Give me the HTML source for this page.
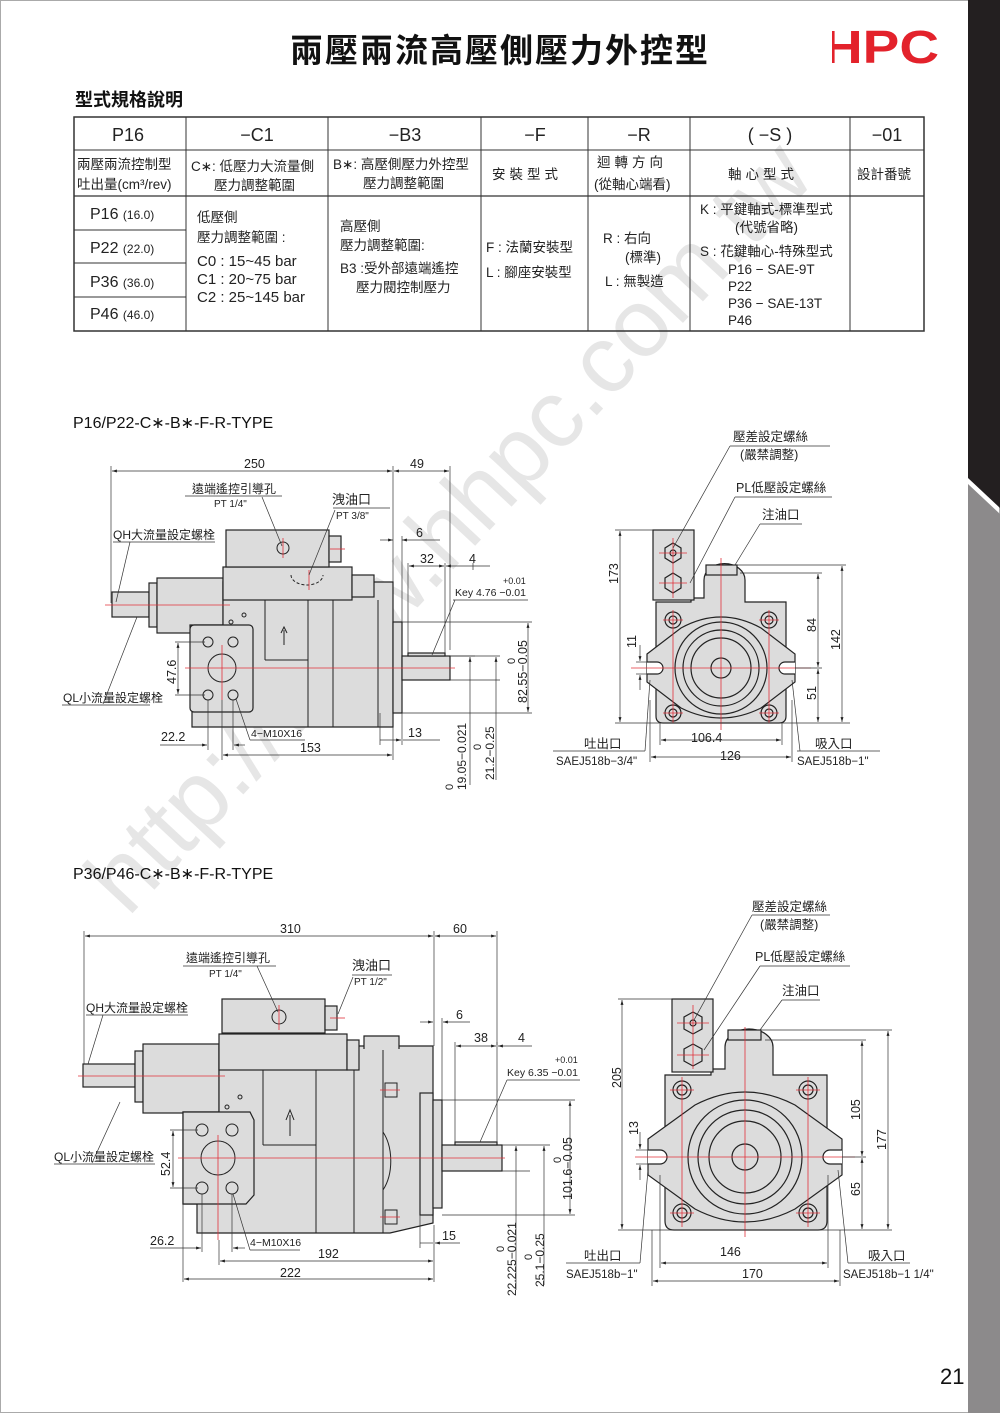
<!DOCTYPE html>
<html><head><meta charset="utf-8">
<style>
html,body{margin:0;padding:0;background:#fff;}
body{width:1000px;height:1413px;overflow:hidden;position:relative;font-family:"Liberation Sans","Noto Sans CJK TC",sans-serif;}
svg{position:absolute;left:0;top:0;}
</style></head><body>
<svg width="1000" height="1413" viewBox="0 0 1000 1413" xmlns="http://www.w3.org/2000/svg" font-family="Liberation Sans, Noto Sans CJK TC, sans-serif">
<defs>
<marker id="a" viewBox="0 0 10 10" refX="10" refY="5" markerWidth="7" markerHeight="7" orient="auto-start-reverse"><path d="M0,2 L10,5 L0,8 Z" fill="#222"/></marker>
</defs>
<rect x="0.5" y="0.5" width="999" height="1412" fill="#fff" stroke="#aaa"/>
<!-- right strip -->
<polygon points="968,0 1000,0 1000,508 968,478" fill="#231f20"/>
<polygon points="968,484 1000,514 1000,1413 968,1413" fill="#8c8a8b"/>
<!-- watermark -->
<text x="0" y="0" transform="translate(128,918) rotate(-47)" font-size="96" fill="#e6e6e6" textLength="1010" lengthAdjust="spacingAndGlyphs">http://www.hhpc.com.tw</text>

<!-- title -->
<text x="500" y="62" text-anchor="middle" font-size="33" font-weight="bold" fill="#111" letter-spacing="2">兩壓兩流高壓側壓力外控型</text>
<text x="823" y="63" font-size="46" font-weight="bold" fill="#e3222b" textLength="116" lengthAdjust="spacingAndGlyphs">HPC</text>
<rect x="826" y="29" width="6" height="34" fill="#fff"/>
<text x="75" y="106" font-size="18" font-weight="bold" fill="#111">型式規格說明</text>

<!-- table -->
<g stroke="#333" fill="none">
<rect x="74" y="117" width="850" height="214" stroke-width="1.5"/>
<line x1="74" y1="150" x2="924" y2="150"/>
<line x1="74" y1="196" x2="924" y2="196" stroke-width="1.2"/>
<line x1="74" y1="230" x2="186" y2="230"/>
<line x1="74" y1="263" x2="186" y2="263"/>
<line x1="74" y1="297" x2="186" y2="297"/>
<line x1="186" y1="117" x2="186" y2="331"/>
<line x1="328" y1="117" x2="328" y2="331"/>
<line x1="481" y1="117" x2="481" y2="331"/>
<line x1="588" y1="117" x2="588" y2="331"/>
<line x1="690" y1="117" x2="690" y2="331"/>
<line x1="850" y1="117" x2="850" y2="331"/>
</g>
<g font-size="18" fill="#222" text-anchor="middle">
<text x="128" y="141">P16</text><text x="257" y="141">−C1</text><text x="405" y="141">−B3</text>
<text x="535" y="141">−F</text><text x="639" y="141">−R</text><text x="770" y="141">( −S )</text><text x="887" y="141">−01</text>
</g>
<g font-size="13.5" fill="#222">
<text x="77" y="169">兩壓兩流控制型</text><text x="77" y="189">吐出量(cm³/rev)</text>
<text x="191" y="171">C∗: 低壓力大流量側</text><text x="214" y="190">壓力調整範圍</text>
<text x="333" y="169">B∗: 高壓側壓力外控型</text><text x="363" y="188">壓力調整範圍</text>
<text x="492" y="179" letter-spacing="4">安裝型式</text>
<text x="597" y="167" letter-spacing="4">迴轉方向</text><text x="594" y="189">(從軸心端看)</text>
<text x="728" y="179" letter-spacing="4">軸心型式</text>
<text x="857" y="179">設計番號</text>
</g>
<g fill="#222">
<text x="90" y="219" font-size="16">P16 <tspan font-size="12">(16.0)</tspan></text>
<text x="90" y="253" font-size="16">P22 <tspan font-size="12">(22.0)</tspan></text>
<text x="90" y="287" font-size="16">P36 <tspan font-size="12">(36.0)</tspan></text>
<text x="90" y="319" font-size="16">P46 <tspan font-size="12">(46.0)</tspan></text>
</g>
<g font-size="13.5" fill="#222">
<text x="197" y="222">低壓側</text><text x="197" y="242">壓力調整範圍 :</text>
<text x="197" y="266" font-size="15">C0 : 15~45   bar</text>
<text x="197" y="284" font-size="15">C1 : 20~75   bar</text>
<text x="197" y="302" font-size="15">C2 : 25~145  bar</text>
<text x="340" y="231">高壓側</text><text x="340" y="250">壓力調整範圍:</text>
<text x="340" y="273">B3 :受外部遠端遙控</text><text x="356" y="292">壓力閥控制壓力</text>
<text x="486" y="252">F :  法蘭安裝型</text><text x="486" y="277">L :  腳座安裝型</text>
<text x="603" y="243">R : 右向</text><text x="625" y="262">(標準)</text><text x="605" y="286">L : 無製造</text>
<text x="700" y="214">K : 平鍵軸式-標準型式</text><text x="735" y="232">(代號省略)</text>
<text x="700" y="256">S : 花鍵軸心-特殊型式</text>
<text x="728" y="274">P16  − SAE-9T</text><text x="728" y="291">P22</text>
<text x="728" y="308">P36  − SAE-13T</text><text x="728" y="325">P46</text>
</g>

<!-- ============ DRAWING 1 SIDE VIEW ============ -->
<text x="73" y="428" font-size="16" fill="#111">P16/P22-C∗-B∗-F-R-TYPE</text>
<g fill="#dcdcdc" stroke="#222" stroke-width="1.2">
<rect x="112" y="592" width="37" height="25"/>
<rect x="149" y="583" width="8" height="44"/>
<rect x="157" y="578" width="66" height="55"/>
<path d="M223,582 L393,582 L393,727 L192,727 L192,712 L190,625 L223,625 Z"/>
<rect x="190" y="625" width="63" height="87" rx="4"/>
<rect x="223" y="567" width="129" height="33"/>
<rect x="226" y="530" width="103" height="37"/>
<rect x="329" y="536" width="12" height="26"/>
<rect x="352" y="575" width="22" height="22"/>
<rect x="393" y="622" width="9" height="91"/>
<rect x="402" y="656" width="48" height="24"/>
<rect x="408" y="653" width="37" height="3"/>
</g>
<g stroke="#222" stroke-width="1" fill="none">
<line x1="308" y1="600" x2="308" y2="727"/><line x1="333" y1="600" x2="333" y2="727"/><line x1="378" y1="600" x2="378" y2="727"/>
<line x1="265" y1="600" x2="265" y2="660"/><line x1="265" y1="660" x2="308" y2="660"/>
<path d="M291,575 A16,10 0 0 0 323,575" stroke-dasharray="3,2"/>
<circle cx="222" cy="668" r="14"/>
<circle cx="208" cy="642" r="5"/><circle cx="233" cy="642" r="5"/><circle cx="208" cy="695" r="5"/><circle cx="233" cy="695" r="5"/>
<circle cx="283" cy="548" r="6"/>
<path d="M284,645 V630 M281,633 L284,627 L287,633"/>
<circle cx="231" cy="622" r="2"/><circle cx="244" cy="615" r="2"/>
</g>
<g stroke="#e0303a" stroke-width="0.8">
<line x1="105" y1="605" x2="230" y2="605"/><line x1="185" y1="668" x2="455" y2="668"/>
<line x1="222" y1="645" x2="222" y2="700"/><line x1="283" y1="538" x2="283" y2="558"/>
<line x1="309" y1="570" x2="309" y2="590"/><line x1="330" y1="549" x2="345" y2="549"/>
</g>
<!-- dims drawing 1 -->
<g stroke="#333" stroke-width="0.7" fill="none">
<line x1="111" y1="466" x2="111" y2="603"/><line x1="393" y1="466" x2="393" y2="582"/><line x1="450" y1="466" x2="450" y2="650"/>
<line x1="112" y1="471" x2="392" y2="471" marker-start="url(#a)" marker-end="url(#a)"/>
<line x1="394" y1="471" x2="449" y2="471" marker-start="url(#a)" marker-end="url(#a)"/>
<line x1="402" y1="536" x2="402" y2="622"/>
<line x1="380" y1="540" x2="393" y2="540" marker-end="url(#a)"/><line x1="402" y1="540" x2="440" y2="540" marker-start="url(#a)"/>
<line x1="408" y1="563" x2="408" y2="653"/><line x1="445" y1="563" x2="445" y2="653"/><line x1="473" y1="563" x2="473" y2="570"/>
<line x1="409" y1="566" x2="444" y2="566" marker-start="url(#a)" marker-end="url(#a)"/><line x1="446" y1="566" x2="490" y2="566" marker-start="url(#a)"/>
<line x1="453" y1="600" x2="528" y2="600"/><line x1="455" y1="600" x2="432" y2="655"/>
<line x1="402" y1="622" x2="532" y2="622"/><line x1="402" y1="713" x2="532" y2="713"/>
<line x1="528" y1="623" x2="528" y2="712" marker-start="url(#a)" marker-end="url(#a)"/>
<line x1="450" y1="656" x2="475" y2="656"/><line x1="450" y1="680" x2="500" y2="680"/><line x1="450" y1="656" x2="500" y2="656"/>
<line x1="470" y1="657" x2="470" y2="785" marker-start="url(#a)"/><line x1="496" y1="657" x2="496" y2="780" marker-start="url(#a)"/>
<line x1="175" y1="642" x2="205" y2="642"/><line x1="175" y1="695" x2="205" y2="695"/>
<line x1="178" y1="643" x2="178" y2="694" marker-start="url(#a)" marker-end="url(#a)"/>
<line x1="208" y1="700" x2="208" y2="750"/><line x1="233" y1="700" x2="233" y2="750"/><line x1="222" y1="700" x2="222" y2="760"/>
<line x1="160" y1="745" x2="207" y2="745" marker-end="url(#a)"/><line x1="234" y1="745" x2="245" y2="745" marker-start="url(#a)"/>
<line x1="250" y1="740" x2="305" y2="740"/><line x1="250" y1="740" x2="236" y2="699"/>
<line x1="223" y1="755" x2="392" y2="755" marker-start="url(#a)" marker-end="url(#a)"/><line x1="393" y1="727" x2="393" y2="760"/>
<line x1="380" y1="713" x2="380" y2="745"/><line x1="402" y1="713" x2="402" y2="745"/>
<line x1="380" y1="740" x2="401" y2="740" marker-end="url(#a)"/><line x1="403" y1="740" x2="440" y2="740"/>
<line x1="185" y1="496" x2="282" y2="496"/><line x1="262" y1="497" x2="282" y2="546"/>
<line x1="333" y1="508" x2="390" y2="508"/><line x1="335" y1="510" x2="309" y2="575"/>
<line x1="113" y1="542" x2="215" y2="542"/><line x1="130" y1="542" x2="116" y2="602"/>
<line x1="62" y1="705" x2="150" y2="705"/><line x1="103" y1="704" x2="137" y2="617"/>
</g>
<g font-size="12.5" fill="#222">
<text x="244" y="468">250</text><text x="410" y="468">49</text>
<text x="192" y="493" font-size="12">遠端遙控引導孔</text><text x="214" y="507" font-size="10">PT 1/4"</text>
<text x="332" y="504" font-size="13">洩油口</text><text x="336" y="519" font-size="10">PT 3/8"</text>
<text x="113" y="539" font-size="12">QH大流量設定螺栓</text>
<text x="63" y="702" font-size="12">QL小流量設定螺栓</text>
<text x="416" y="537">6</text><text x="420" y="563">32</text><text x="469" y="563">4</text>
<text x="503" y="584" font-size="9">+0.01</text><text x="455" y="596" font-size="10.5">Key 4.76 −0.01</text>
<text x="161" y="741">22.2</text><text x="251" y="737" font-size="10.5">4−M10X16</text>
<text x="300" y="752">153</text><text x="408" y="737">13</text>
<text transform="translate(176,684) rotate(-90)">47.6</text>
<text transform="translate(515,664) rotate(-90)" font-size="11">0</text>
<text transform="translate(527,703) rotate(-90)">82.55−0.05</text>
<text transform="translate(453,790) rotate(-90)" font-size="11">0</text>
<text transform="translate(466,790) rotate(-90)" font-size="12">19.05−0.021</text>
<text transform="translate(481,750) rotate(-90)" font-size="11">0</text>
<text transform="translate(494,780) rotate(-90)" font-size="12">21.2−0.25</text>
</g>

<!-- ============ FRONT VIEW 1 ============ -->
<g transform="translate(721,668)">
<g fill="#dcdcdc" stroke="#222" stroke-width="1.2">
<path d="M-65,-66 L-30,-66 L-30,-70 L-17,-70 L-17,-88 A20,16 0 0 1 24,-88 L24,-66 L65,-66 L65,48 Q65,55 58,55 L-58,55 Q-65,55 -65,48 Z"/>
<rect x="-68" y="-138" width="41" height="70"/>
<rect x="-15" y="-103" width="31" height="10"/>
<path d="M-74,-14 L-40,-40 Q0,-62 40,-40 L74,-14 L74,14 L40,40 Q0,60 -40,40 L-74,14 Z"/>
<circle r="46"/><circle r="38"/><circle r="30" fill="none"/><circle r="10"/>
<circle cx="-48" cy="-48" r="8"/><circle cx="48" cy="-48" r="8"/><circle cx="-48" cy="45" r="8"/><circle cx="48" cy="45" r="8"/>
<circle cx="-48" cy="-48" r="4"/><circle cx="48" cy="-48" r="4"/><circle cx="-48" cy="45" r="4"/><circle cx="48" cy="45" r="4"/>
<polygon points="-48,-125 -40,-120 -40,-110 -48,-105 -56,-110 -56,-120"/>
<polygon points="-48,-95 -40,-90 -40,-80 -48,-75 -56,-80 -56,-90"/>
<circle cx="-48" cy="-115" r="3"/>
<path d="M-74,-6 L-64,-6 A6,6 0 0 1 -64,6 L-74,6" fill="#fff"/>
<path d="M74,-6 L64,-6 A6,6 0 0 0 64,6 L74,6" fill="#fff"/>
</g>
<g stroke="#e0303a" stroke-width="0.8">
<line x1="-90" y1="0" x2="90" y2="0"/><line x1="0" y1="-110" x2="0" y2="62"/>
<line x1="-62" y1="-115" x2="-34" y2="-115"/><line x1="-62" y1="-85" x2="-34" y2="-85"/><line x1="-48" y1="-130" x2="-48" y2="-70"/>
<line x1="-58" y1="-48" x2="-38" y2="-48"/><line x1="38" y1="-48" x2="58" y2="-48"/><line x1="-58" y1="45" x2="-38" y2="45"/><line x1="38" y1="45" x2="58" y2="45"/>
<line x1="-48" y1="-58" x2="-48" y2="55"/><line x1="48" y1="-58" x2="48" y2="55"/>
</g>
</g>
<g stroke="#333" stroke-width="0.7" fill="none">
<line x1="615" y1="530" x2="653" y2="530"/><line x1="615" y1="723" x2="850" y2="723"/>
<line x1="620" y1="531" x2="620" y2="722" marker-start="url(#a)" marker-end="url(#a)"/>
<line x1="737" y1="565" x2="846" y2="565"/><line x1="842" y1="566" x2="842" y2="722" marker-start="url(#a)" marker-end="url(#a)"/>
<line x1="740" y1="573" x2="822" y2="573"/><line x1="795" y1="668" x2="822" y2="668"/>
<line x1="818" y1="574" x2="818" y2="667" marker-start="url(#a)" marker-end="url(#a)"/><line x1="818" y1="669" x2="818" y2="722" marker-start="url(#a)" marker-end="url(#a)"/>
<line x1="636" y1="662" x2="650" y2="662"/><line x1="636" y1="674" x2="650" y2="674"/>
<line x1="640" y1="645" x2="640" y2="661" marker-end="url(#a)"/><line x1="640" y1="675" x2="640" y2="690" marker-start="url(#a)"/>
<line x1="660" y1="723" x2="660" y2="745"/><line x1="782" y1="723" x2="782" y2="745"/>
<line x1="661" y1="740" x2="781" y2="740" marker-start="url(#a)" marker-end="url(#a)"/>
<line x1="650" y1="700" x2="650" y2="762"/><line x1="792" y1="700" x2="792" y2="762"/>
<line x1="651" y1="757" x2="791" y2="757" marker-start="url(#a)" marker-end="url(#a)"/>
<line x1="730" y1="446" x2="830" y2="446"/><line x1="730" y1="446" x2="673" y2="548"/>
<line x1="735" y1="497" x2="832" y2="497"/><line x1="735" y1="497" x2="690" y2="583"/>
<line x1="760" y1="524" x2="802" y2="524"/><line x1="760" y1="524" x2="735" y2="565"/>
<line x1="553" y1="751" x2="645" y2="751"/><line x1="645" y1="751" x2="650" y2="680"/>
<line x1="797" y1="751" x2="880" y2="751"/><line x1="800" y1="751" x2="792" y2="680"/>
</g>
<g font-size="12.5" fill="#222">
<text x="733" y="441">壓差設定螺絲</text><text x="740" y="459">(嚴禁調整)</text>
<text x="736" y="492">PL低壓設定螺絲</text><text x="762" y="519">注油口</text>
<text transform="translate(618,584) rotate(-90)">173</text>
<text transform="translate(636,648) rotate(-90)">11</text>
<text transform="translate(816,632) rotate(-90)">84</text>
<text transform="translate(840,650) rotate(-90)">142</text>
<text transform="translate(816,700) rotate(-90)">51</text>
<text x="584" y="748">吐出口</text><text x="556" y="765" font-size="11.5">SAEJ518b−3/4"</text>
<text x="691" y="742">106.4</text><text x="720" y="760">126</text>
<text x="815" y="748">吸入口</text><text x="797" y="765" font-size="11.5">SAEJ518b−1"</text>
</g>

<!-- ============ DRAWING 2 SIDE VIEW ============ -->
<text x="73" y="879" font-size="16" fill="#111">P36/P46-C∗-B∗-F-R-TYPE</text>
<g fill="#dcdcdc" stroke="#222" stroke-width="1.2">
<rect x="83" y="1064" width="52" height="23"/>
<rect x="135" y="1051" width="8" height="51"/>
<rect x="143" y="1044" width="76" height="69"/>
<path d="M219,1046 L433,1046 L433,1223 L390,1233 L197,1233 L197,1204 L183,1204 L183,1112 L219,1112 Z"/>
<path d="M183,1112 L250,1112 L254,1120 L254,1195 L246,1204 L183,1204 Z"/>
<rect x="219" y="1034" width="128" height="36"/>
<rect x="222" y="999" width="103" height="34"/>
<rect x="325" y="1006" width="12" height="24"/>
<path d="M364,1049 L364,1036 L399,1036 L399,1049"/>
<rect x="347" y="1040" width="12" height="30"/>
<rect x="420" y="1093" width="13" height="122"/>
<rect x="433" y="1100" width="9" height="108"/>
<rect x="442" y="1145" width="60" height="26"/>
<rect x="455" y="1142" width="42" height="3"/>
</g>
<g stroke="#222" stroke-width="1" fill="none">
<line x1="316" y1="1070" x2="316" y2="1233"/><line x1="354" y1="1070" x2="354" y2="1233"/><line x1="383" y1="1050" x2="383" y2="1233"/>
<line x1="263" y1="1070" x2="263" y2="1145"/><line x1="263" y1="1145" x2="316" y2="1145"/>
<path d="M383,1132 A25,40 0 0 1 383,1190"/>
<circle cx="218" cy="1158" r="17"/>
<circle cx="202" cy="1130" r="6"/><circle cx="232" cy="1130" r="6"/><circle cx="202" cy="1188" r="6"/><circle cx="232" cy="1188" r="6"/>
<circle cx="279" cy="1017" r="7"/>
<path d="M290,1136 V1115 M286,1120 L290,1110 L294,1120"/>
<circle cx="227" cy="1107" r="2"/><circle cx="240" cy="1097" r="2"/>
<rect x="385" y="1083" width="12" height="14"/><rect x="385" y="1210" width="12" height="14"/>
</g>
<g stroke="#e0303a" stroke-width="0.8">
<line x1="78" y1="1076" x2="225" y2="1076"/><line x1="178" y1="1158" x2="505" y2="1158"/>
<line x1="218" y1="1135" x2="218" y2="1240"/><line x1="279" y1="1005" x2="279" y2="1030"/>
<line x1="330" y1="1018" x2="345" y2="1018"/><line x1="380" y1="1090" x2="400" y2="1090"/><line x1="380" y1="1217" x2="400" y2="1217"/>
</g>
<g stroke="#333" stroke-width="0.7" fill="none">
<line x1="84" y1="931" x2="84" y2="1064"/><line x1="434" y1="931" x2="434" y2="1046"/><line x1="497" y1="931" x2="497" y2="1045"/>
<line x1="85" y1="936" x2="433" y2="936" marker-start="url(#a)" marker-end="url(#a)"/>
<line x1="435" y1="936" x2="496" y2="936" marker-start="url(#a)" marker-end="url(#a)"/>
<line x1="442" y1="1018" x2="442" y2="1100"/>
<line x1="420" y1="1022" x2="433" y2="1022" marker-end="url(#a)"/><line x1="443" y1="1022" x2="470" y2="1022" marker-start="url(#a)"/>
<line x1="455" y1="1042" x2="455" y2="1142"/><line x1="497" y1="1042" x2="497" y2="1142"/>
<line x1="456" y1="1046" x2="496" y2="1046" marker-start="url(#a)" marker-end="url(#a)"/><line x1="498" y1="1046" x2="532" y2="1046" marker-start="url(#a)"/>
<line x1="507" y1="1080" x2="580" y2="1080"/><line x1="507" y1="1080" x2="480" y2="1142"/>
<line x1="442" y1="1100" x2="575" y2="1100"/><line x1="442" y1="1215" x2="575" y2="1215"/>
<line x1="570" y1="1101" x2="570" y2="1214" marker-start="url(#a)" marker-end="url(#a)"/>
<line x1="502" y1="1145" x2="550" y2="1145"/><line x1="502" y1="1171" x2="530" y2="1171"/>
<line x1="516" y1="1146" x2="516" y2="1290" marker-start="url(#a)"/><line x1="544" y1="1146" x2="544" y2="1285" marker-start="url(#a)"/>
<line x1="170" y1="1130" x2="198" y2="1130"/><line x1="170" y1="1188" x2="198" y2="1188"/>
<line x1="173" y1="1131" x2="173" y2="1187" marker-start="url(#a)" marker-end="url(#a)"/>
<line x1="202" y1="1194" x2="202" y2="1252"/><line x1="232" y1="1194" x2="232" y2="1252"/>
<line x1="150" y1="1248" x2="201" y2="1248" marker-end="url(#a)"/><line x1="233" y1="1248" x2="245" y2="1248" marker-start="url(#a)"/>
<line x1="250" y1="1250" x2="300" y2="1250"/><line x1="250" y1="1250" x2="233" y2="1194"/>
<line x1="219" y1="1240" x2="219" y2="1265"/><line x1="434" y1="1225" x2="434" y2="1282"/><line x1="183" y1="1204" x2="183" y2="1282"/>
<line x1="220" y1="1261" x2="433" y2="1261" marker-start="url(#a)" marker-end="url(#a)"/>
<line x1="184" y1="1279" x2="433" y2="1279" marker-start="url(#a)" marker-end="url(#a)"/>
<line x1="420" y1="1215" x2="420" y2="1248"/>
<line x1="420" y1="1243" x2="433" y2="1243"/><line x1="435" y1="1243" x2="460" y2="1243" marker-start="url(#a)"/>
<line x1="183" y1="966" x2="276" y2="966"/><line x1="257" y1="966" x2="278" y2="1012"/>
<line x1="352" y1="975" x2="392" y2="975"/><line x1="353" y1="977" x2="338" y2="1014"/>
<line x1="86" y1="1015" x2="188" y2="1015"/><line x1="103" y1="1015" x2="88" y2="1064"/>
<line x1="54" y1="1164" x2="155" y2="1164"/><line x1="92" y1="1163" x2="120" y2="1102"/>
</g>
<g font-size="12.5" fill="#222">
<text x="280" y="933">310</text><text x="453" y="933">60</text>
<text x="186" y="962" font-size="12">遠端遙控引導孔</text><text x="209" y="977" font-size="10">PT 1/4"</text>
<text x="352" y="970" font-size="13">洩油口</text><text x="354" y="985" font-size="10">PT 1/2"</text>
<text x="86" y="1012" font-size="12">QH大流量設定螺栓</text>
<text x="54" y="1161" font-size="12">QL小流量設定螺栓</text>
<text x="456" y="1019">6</text><text x="474" y="1042">38</text><text x="518" y="1042">4</text>
<text x="555" y="1063" font-size="9">+0.01</text><text x="507" y="1076" font-size="10.5">Key 6.35 −0.01</text>
<text transform="translate(170,1176) rotate(-90)">52.4</text>
<text transform="translate(561,1163) rotate(-90)" font-size="11">0</text>
<text transform="translate(572,1200) rotate(-90)">101.6−0.05</text>
<text transform="translate(504,1252) rotate(-90)" font-size="11">0</text>
<text transform="translate(516,1296) rotate(-90)" font-size="12">22.225−0.021</text>
<text transform="translate(532,1260) rotate(-90)" font-size="11">0</text>
<text transform="translate(544,1287) rotate(-90)" font-size="12">25.1−0.25</text>
<text x="150" y="1245">26.2</text><text x="250" y="1246" font-size="10.5">4−M10X16</text>
<text x="318" y="1258">192</text><text x="280" y="1277">222</text><text x="442" y="1240">15</text>
</g>

<!-- ============ FRONT VIEW 2 ============ -->
<g transform="translate(745,1157)">
<g fill="#dcdcdc" stroke="#222" stroke-width="1.2">
<path d="M-80,-82 L-34,-82 L-34,-88 L-20,-88 L-20,-110 A24,18 0 0 1 28,-110 L28,-82 L82,-82 L82,64 Q82,73 73,73 L-71,73 Q-80,73 -80,64 Z"/>
<rect x="-73" y="-158" width="41" height="73"/>
<rect x="-17" y="-127" width="33" height="10"/>
<path d="M-97,-18 L-50,-52 Q0,-78 50,-52 L97,-18 L97,18 L50,52 Q0,78 -50,52 L-97,18 Z"/>
<circle r="57"/><circle r="47"/><circle r="36" fill="none"/><circle r="13"/>
<circle cx="-63" cy="-67" r="9"/><circle cx="63" cy="-67" r="9"/><circle cx="-63" cy="56" r="9"/><circle cx="63" cy="56" r="9"/>
<circle cx="-63" cy="-67" r="5"/><circle cx="63" cy="-67" r="5"/><circle cx="-63" cy="56" r="5"/><circle cx="63" cy="56" r="5"/>
<polygon points="-52,-145 -43,-140 -43,-128 -52,-123 -61,-128 -61,-140"/>
<polygon points="-52,-113 -43,-108 -43,-96 -52,-91 -61,-96 -61,-108"/>
<circle cx="-52" cy="-134" r="3"/>
<path d="M-97,-7 L-85,-7 A7,7 0 0 1 -85,7 L-97,7" fill="#fff"/>
<path d="M97,-7 L85,-7 A7,7 0 0 0 85,7 L97,7" fill="#fff"/>
</g>
<g stroke="#e0303a" stroke-width="0.8">
<line x1="-110" y1="0" x2="110" y2="0"/><line x1="0" y1="-130" x2="0" y2="80"/>
<line x1="-68" y1="-134" x2="-36" y2="-134"/><line x1="-68" y1="-102" x2="-36" y2="-102"/><line x1="-52" y1="-152" x2="-52" y2="-88"/>
<line x1="-75" y1="-67" x2="-51" y2="-67"/><line x1="51" y1="-67" x2="75" y2="-67"/><line x1="-75" y1="56" x2="-51" y2="56"/><line x1="51" y1="56" x2="75" y2="56"/>
<line x1="-63" y1="-80" x2="-63" y2="70"/><line x1="63" y1="-80" x2="63" y2="70"/>
</g>
</g>
<g stroke="#333" stroke-width="0.7" fill="none">
<line x1="618" y1="999" x2="672" y2="999"/><line x1="618" y1="1230" x2="892" y2="1230"/>
<line x1="622" y1="1000" x2="622" y2="1229" marker-start="url(#a)" marker-end="url(#a)"/>
<line x1="761" y1="1030" x2="892" y2="1030"/><line x1="888" y1="1031" x2="888" y2="1229" marker-start="url(#a)" marker-end="url(#a)"/>
<line x1="765" y1="1040" x2="866" y2="1040"/><line x1="842" y1="1157" x2="866" y2="1157"/>
<line x1="862" y1="1041" x2="862" y2="1156" marker-start="url(#a)" marker-end="url(#a)"/><line x1="862" y1="1158" x2="862" y2="1229" marker-start="url(#a)" marker-end="url(#a)"/>
<line x1="636" y1="1150" x2="650" y2="1150"/><line x1="636" y1="1164" x2="650" y2="1164"/>
<line x1="640" y1="1132" x2="640" y2="1149" marker-end="url(#a)"/><line x1="640" y1="1165" x2="640" y2="1180" marker-start="url(#a)"/>
<line x1="660" y1="1175" x2="660" y2="1268"/><line x1="828" y1="1175" x2="828" y2="1268"/>
<line x1="661" y1="1263" x2="827" y2="1263" marker-start="url(#a)" marker-end="url(#a)"/>
<line x1="652" y1="1230" x2="652" y2="1286"/><line x1="840" y1="1230" x2="840" y2="1286"/>
<line x1="653" y1="1281" x2="839" y2="1281" marker-start="url(#a)" marker-end="url(#a)"/>
<line x1="752" y1="915" x2="830" y2="915"/><line x1="752" y1="915" x2="694" y2="1020"/>
<line x1="760" y1="966" x2="850" y2="966"/><line x1="760" y1="966" x2="704" y2="1050"/>
<line x1="782" y1="1000" x2="820" y2="1000"/><line x1="782" y1="1000" x2="760" y2="1030"/>
<line x1="566" y1="1263" x2="640" y2="1263"/><line x1="640" y1="1263" x2="648" y2="1170"/>
<line x1="848" y1="1263" x2="910" y2="1263"/><line x1="848" y1="1263" x2="838" y2="1170"/>
</g>
<g font-size="12.5" fill="#222">
<text x="752" y="911">壓差設定螺絲</text><text x="760" y="929">(嚴禁調整)</text>
<text x="755" y="961">PL低壓設定螺絲</text><text x="782" y="995">注油口</text>
<text transform="translate(621,1088) rotate(-90)">205</text>
<text transform="translate(638,1135) rotate(-90)">13</text>
<text transform="translate(860,1120) rotate(-90)">105</text>
<text transform="translate(886,1150) rotate(-90)">177</text>
<text transform="translate(860,1196) rotate(-90)">65</text>
<text x="584" y="1260">吐出口</text><text x="566" y="1278" font-size="11.5">SAEJ518b−1"</text>
<text x="720" y="1256">146</text><text x="742" y="1278">170</text>
<text x="868" y="1260">吸入口</text><text x="843" y="1278" font-size="11.5">SAEJ518b−1 1/4"</text>
</g>

<text x="940" y="1384" font-size="22" fill="#111">21</text>
</svg>
</body></html>
